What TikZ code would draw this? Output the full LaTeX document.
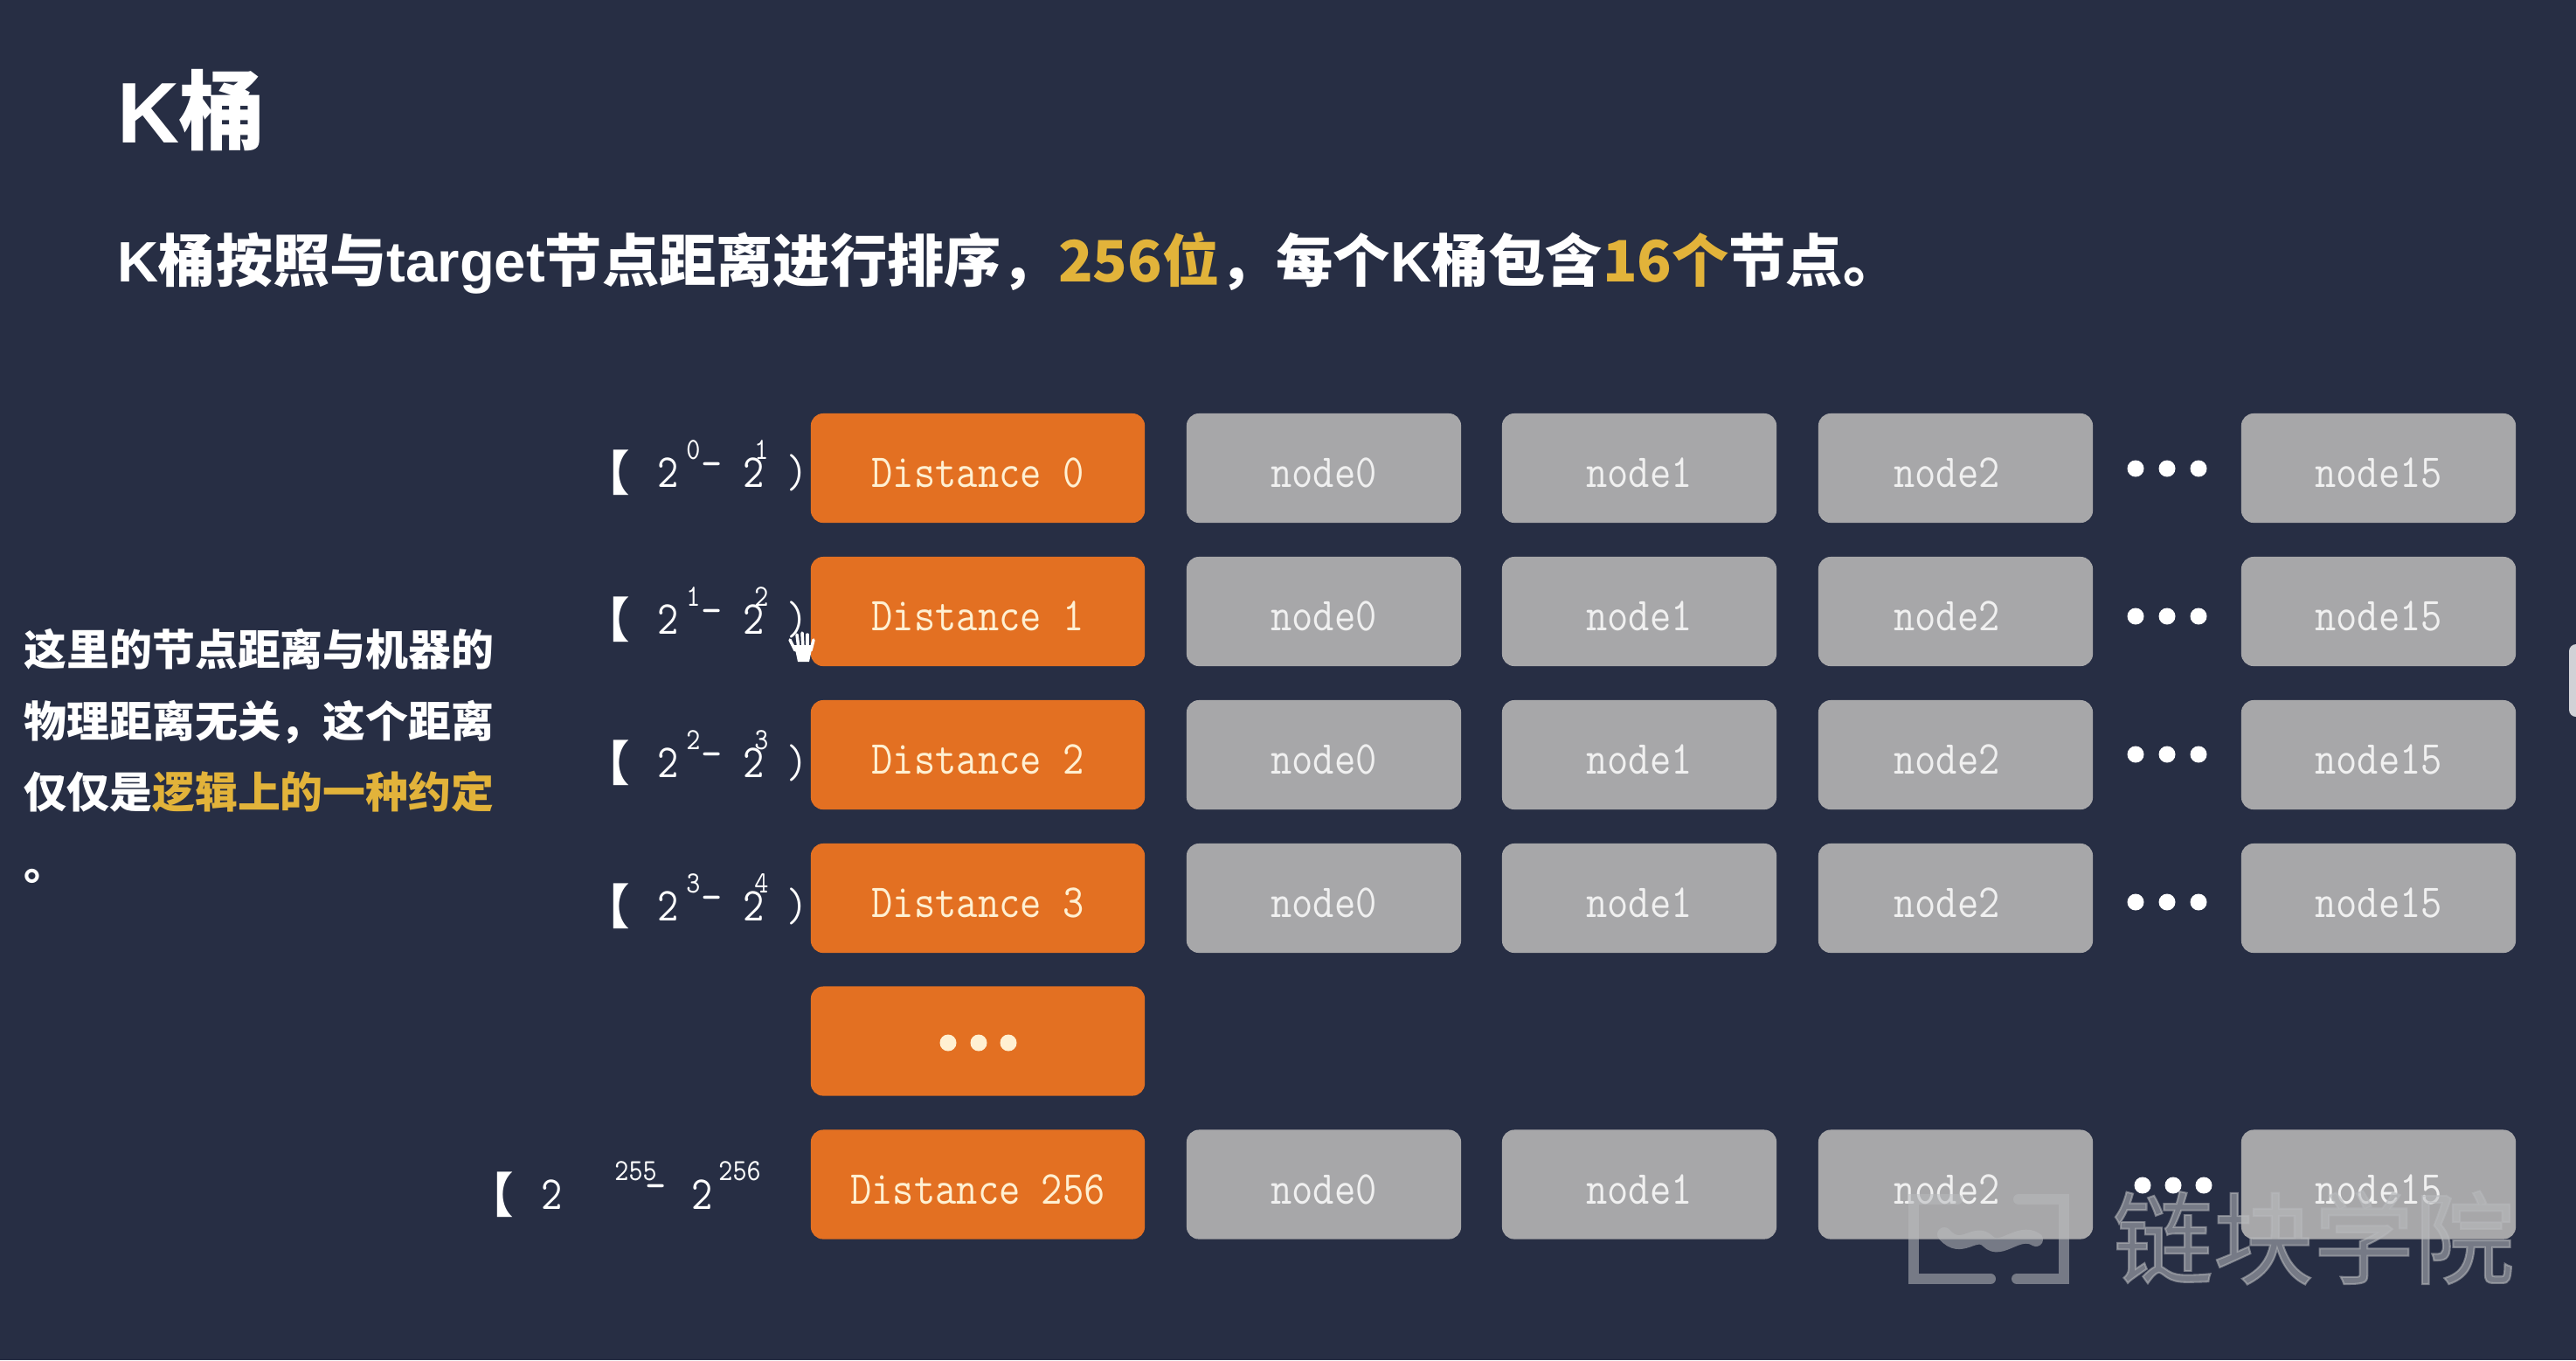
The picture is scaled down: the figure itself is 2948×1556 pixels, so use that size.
\documentclass[tikz,border=0pt]{standalone}
\usepackage{fontspec}
\usepackage{tikz}
\newfontfamily\cjk{Noto Sans CJK SC}
\newfontfamily\cjkmark[FakeBold=1.8]{Noto Sans CJK SC}
\newfontfamily\arial{Liberation Sans}
\newfontfamily\slab[FakeStretch=0.87]{Latin Modern Mono}
\definecolor{bgblue}{HTML}{272E44}
\definecolor{distorange}{HTML}{E37022}
\definecolor{nodegray}{HTML}{A7A7A9}
\definecolor{gold}{HTML}{E2B33A}
\definecolor{cream}{HTML}{FFF0D2}
\definecolor{markgray}{HTML}{B8BABD}
\newlength\px
\setlength\px{0.01cm}
\newcommand{\putat}[3]{\rlap{\hspace*{#1\px}\raisebox{#2\px}{#3}}}
\newcommand{\lat}[1]{{\arial #1}}
% one range label, positions as in the first rows
\newcommand{\rangetext}[2]{%
  \putat{-34}{-4}{\fontsize{15.5pt}{18pt}\cjk\bfseries 【}%
  \putat{52}{0}{\slab\fontsize{15.4pt}{18pt}\selectfont 2}%
  \putat{85}{32}{\slab\fontsize{10pt}{12pt}\selectfont #1}%
  \putat{102}{10}{\slab\fontsize{15.4pt}{18pt}\selectfont -}%
  \putat{150}{0}{\slab\fontsize{15.4pt}{18pt}\selectfont 2}%
  \putat{163}{32}{\slab\fontsize{10pt}{12pt}\selectfont #2}%
  \putat{200}{0}{\slab\fontsize{15.4pt}{18pt}\selectfont )}}
\tikzset{
  distbox/.style={fill=distorange,text=cream,rounded corners=0.14cm,minimum width=3.82cm,
    minimum height=1.25cm,inner sep=0pt,text height=12.5pt,text depth=0pt,
    font=\slab\fontsize{15.4pt}{18pt}\selectfont},
  graybox/.style={distbox,fill=nodegray,text=white!94!black,minimum width=3.14cm},
  dotmark/.style={circle,fill=white,minimum size=0.19cm,inner sep=0pt},
  rangelabel/.style={anchor=base west,inner sep=0pt,text=white},
  markline/.style={markgray,opacity=0.55,line width=0.12cm,line cap=round}
}
\begin{document}
\begin{tikzpicture}[x=0.01cm,y=-0.01cm]
  \useasboundingbox (0,0) rectangle (2948,1556);
  \fill[bgblue] (0,0) rectangle (2948,1556);

  \node[anchor=base west,inner sep=0pt,text=white,font=\cjk\bfseries\fontsize{28pt}{30pt}\selectfont] (title) at (134,163) {\lat{K}桶};
  \node[anchor=base west,inner sep=0pt,text=white,font=\cjk\bfseries\fontsize{18.55pt}{22pt}\selectfont] (subtitle) at (134,322)
    {\lat{K}桶按照与\lat{target}节点距离进行排序，\textcolor{gold}{256位}，每个\lat{K}桶包含\textcolor{gold}{16个}节点。};
  \node[anchor=north west,inner sep=0pt,text=white,align=left,font=\cjk\bfseries\fontsize{13.9pt}{23.3pt}\selectfont] (note) at (27,718)
    {这里的节点距离与机器的\\物理距离无关，这个距离\\仅仅是\textcolor{gold}{逻辑上的一种约定}\\。};

  \node[rangelabel] (range0) at (698,557) {\rangetext{0}{1}};
  \node[distbox] (dist0) at (1119,535.5) {Distance 0};
  \node[graybox] (a0) at (1515,535.5) {node0};
  \node[graybox] (a1) at (1876,535.5) {node1};
  \node[graybox] (a2) at (2238,535.5) {node2\hspace*{20\px}};
  \node[dotmark] (a3) at (2444,536) {};
  \node[dotmark] (a4) at (2480,536) {};
  \node[dotmark] (a5) at (2516,536) {};
  \node[graybox] (a6) at (2722,535.5) {node15};

  \node[rangelabel] (range1) at (698,725) {\rangetext{1}{2}};
  \node[distbox] (dist1) at (1119,699.5) {Distance 1};
  \node[graybox] (b0) at (1515,699.5) {node0};
  \node[graybox] (b1) at (1876,699.5) {node1};
  \node[graybox] (b2) at (2238,699.5) {node2\hspace*{20\px}};
  \node[dotmark] (b3) at (2444,705) {};
  \node[dotmark] (b4) at (2480,705) {};
  \node[dotmark] (b5) at (2516,705) {};
  \node[graybox] (b6) at (2722,699.5) {node15};

  \node[rangelabel] (range2) at (698,889) {\rangetext{2}{3}};
  \node[distbox] (dist2) at (1119,863.5) {Distance 2};
  \node[graybox] (c0) at (1515,863.5) {node0};
  \node[graybox] (c1) at (1876,863.5) {node1};
  \node[graybox] (c2) at (2238,863.5) {node2\hspace*{20\px}};
  \node[dotmark] (c3) at (2444,863) {};
  \node[dotmark] (c4) at (2480,863) {};
  \node[dotmark] (c5) at (2516,863) {};
  \node[graybox] (c6) at (2722,863.5) {node15};

  \node[rangelabel] (range3) at (698,1053) {\rangetext{3}{4}};
  \node[distbox] (dist3) at (1119,1027.5) {Distance 3};
  \node[graybox] (d0) at (1515,1027.5) {node0};
  \node[graybox] (d1) at (1876,1027.5) {node1};
  \node[graybox] (d2) at (2238,1027.5) {node2\hspace*{20\px}};
  \node[dotmark] (d3) at (2444,1032) {};
  \node[dotmark] (d4) at (2480,1032) {};
  \node[dotmark] (d5) at (2516,1032) {};
  \node[graybox] (d6) at (2722,1027.5) {node15};

  \node[distbox] (distdots) at (1119,1191) {};
  \node[dotmark,fill=cream] (e0) at (1085,1193) {};
  \node[dotmark,fill=cream] (e1) at (1120,1193) {};
  \node[dotmark,fill=cream] (e2) at (1154,1193) {};

  \node[rangelabel] (rangelast) at (564,1383) {%
    \putat{-33}{-4}{\fontsize{15.5pt}{18pt}\cjk\bfseries 【}%
    \putat{53}{0}{\slab\fontsize{15.4pt}{18pt}\selectfont 2}%
    \putat{137}{33}{\slab\fontsize{10pt}{12pt}\selectfont 255}%
    \putat{172}{10}{\slab\fontsize{15.4pt}{18pt}\selectfont -}%
    \putat{225}{0}{\slab\fontsize{15.4pt}{18pt}\selectfont 2}%
    \putat{256}{33}{\slab\fontsize{10pt}{12pt}\selectfont 256}};
  \node[distbox] (dist256) at (1119,1355) {Distance 256};
  \node[graybox] (f0) at (1515,1355) {node0};
  \node[graybox] (f1) at (1876,1355) {node1};
  \node[graybox] (f2) at (2238,1355) {node2\hspace*{20\px}};
  \node[graybox] (f6) at (2722,1355) {node15};

  % watermark goes over the last row, the dots over the watermark
  \draw[markline] (2240,1372) -- (2190,1372) -- (2190,1463) -- (2278,1463);
  \draw[markline] (2310,1372) -- (2362,1372) -- (2362,1463) -- (2308,1463);
  \draw[markline,line width=0.16cm] (2225,1412) .. controls (2245,1435) and (2260,1405) .. (2275,1420) .. controls (2290,1435) and (2310,1405) .. (2330,1418);
  \node[anchor=base west,inner sep=0pt,markgray,text opacity=0.55,font=\cjkmark\fontsize{32.7pt}{36pt}\selectfont] (mark) at (2417,1460) {链块学院};
  \node[dotmark] (f3) at (2452,1356) {};
  \node[dotmark] (f4) at (2487,1356) {};
  \node[dotmark] (f5) at (2522,1356) {};

  % hand cursor
  \fill[white] (909,738) -- (930,738) -- (926,757) -- (913,757) -- cycle;
  \draw[white,line width=0.035cm,line cap=round] (904,732) -- (910,744);
  \draw[white,line width=0.035cm,line cap=round] (912,726) -- (914,742);
  \draw[white,line width=0.035cm,line cap=round] (918,724) -- (919,742);
  \draw[white,line width=0.035cm,line cap=round] (924,726) -- (924,742);
  \draw[white,line width=0.035cm,line cap=round] (931,732) -- (928,744);

  % scroll handle at the right edge
  \fill[white!78!bgblue,rounded corners=0.08cm] (2940,737) rectangle (2970,820);
\end{tikzpicture}
\end{document}
